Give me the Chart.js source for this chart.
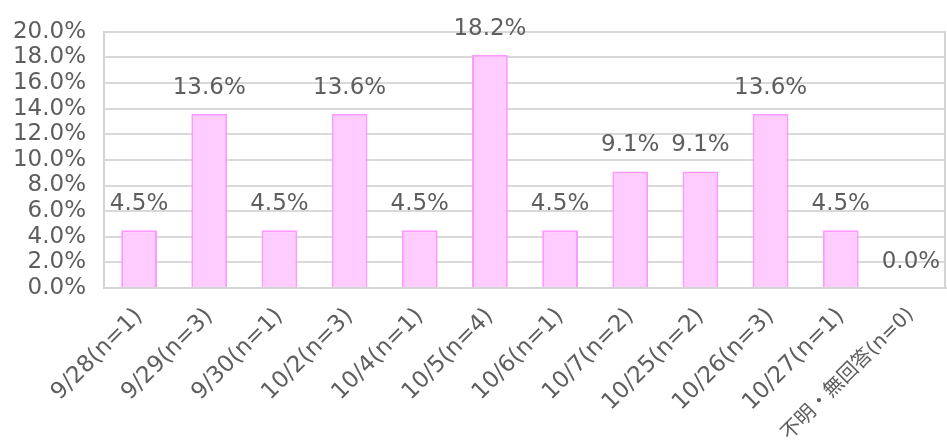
<!DOCTYPE html>
<html>
<head>
<meta charset="utf-8">
<script src="https://cdn.jsdelivr.net/npm/chart.js@4.4.1/dist/chart.umd.min.js"></script>
<style>
html,body{margin:0;padding:0;background:#fff;}
#c{display:block;}
</style>
</head>
<body>
<canvas id="c" width="947" height="446"></canvas>
<script>
const categories = ["9/28(n=1)","9/29(n=3)","9/30(n=1)","10/2(n=3)","10/4(n=1)","10/5(n=4)","10/6(n=1)","10/7(n=2)","10/25(n=2)","10/26(n=3)","10/27(n=1)","不明・無回答(n=0)"];
const values = [4.5, 13.6, 4.5, 13.6, 4.5, 18.2, 4.5, 9.1, 9.1, 13.6, 4.5, 0.0];
const yTicks = [0, 2, 4, 6, 8, 10, 12, 14, 16, 18, 20];

const FONT = "'DejaVu Sans', 'Noto Sans CJK JP', sans-serif";
const TEXT = '#5e5e5e';

const labelPlugin = {
  id: 'barLabels',
  afterDatasetsDraw(chart) {
    const ctx = chart.ctx;
    const meta = chart.getDatasetMeta(0);
    ctx.save();
    ctx.font = "23px " + FONT;
    ctx.fillStyle = TEXT;
    ctx.textAlign = 'center';
    ctx.textBaseline = 'middle';
    meta.data.forEach((bar, i) => {
      ctx.fillText(values[i].toFixed(1) + '%', bar.x, bar.y - 26);
    });
    ctx.restore();
  }
};

const borderPlugin = {
  id: 'rightBorder',
  afterDraw(chart) {
    const a = chart.chartArea;
    const ctx = chart.ctx;
    ctx.save();
    ctx.strokeStyle = '#d4d4d4';
    ctx.lineWidth = 2;
    ctx.beginPath();
    ctx.moveTo(a.right - 1, a.top);
    ctx.lineTo(a.right - 1, a.bottom);
    ctx.stroke();
    ctx.restore();
  }
};

new Chart(document.getElementById('c'), {
  type: 'bar',
  data: {
    labels: categories,
    datasets: [{
      data: values,
      backgroundColor: '#FFCCFF',
      borderColor: '#FF99FF',
      borderWidth: 2,
      borderSkipped: 'bottom',
      categoryPercentage: 1.0,
      barPercentage: 0.51
    }]
  },
  options: {
    responsive: false,
    animation: false,
    layout: { padding: { top: 26, right: 1, left: 0, bottom: 0 } },
    plugins: { legend: { display: false }, tooltip: { enabled: false } },
    scales: {
      x: {
        grid: { display: false },
        border: { display: true, color: '#d4d4d4', width: 2 },
        ticks: {
          color: TEXT,
          font: (c) => ({ family: FONT, size: (c.index === categories.length - 1) ? 20 : 23 }),
          minRotation: 45, maxRotation: 45,
          autoSkip: false,
          padding: 7
        },
        afterFit(scale) { scale.height = 158; scale.paddingLeft = 0; scale.paddingRight = 0; }
      },
      y: {
        min: 0, max: 20,
        afterBuildTicks(scale) { scale.ticks = yTicks.map(v => ({ value: v })); },
        grid: { color: '#d9d9d9', lineWidth: 2, drawTicks: false },
        border: { display: true, color: '#d4d4d4', width: 2 },
        ticks: {
          color: TEXT,
          font: { family: FONT, size: 23 },
          autoSkip: false,
          padding: 18,
          callback: (v) => Number(v).toFixed(1) + '%'
        },
        afterFit(scale) { scale.width = 104; }
      }
    }
  },
  plugins: [labelPlugin, borderPlugin]
});
</script>
</body>
</html>
